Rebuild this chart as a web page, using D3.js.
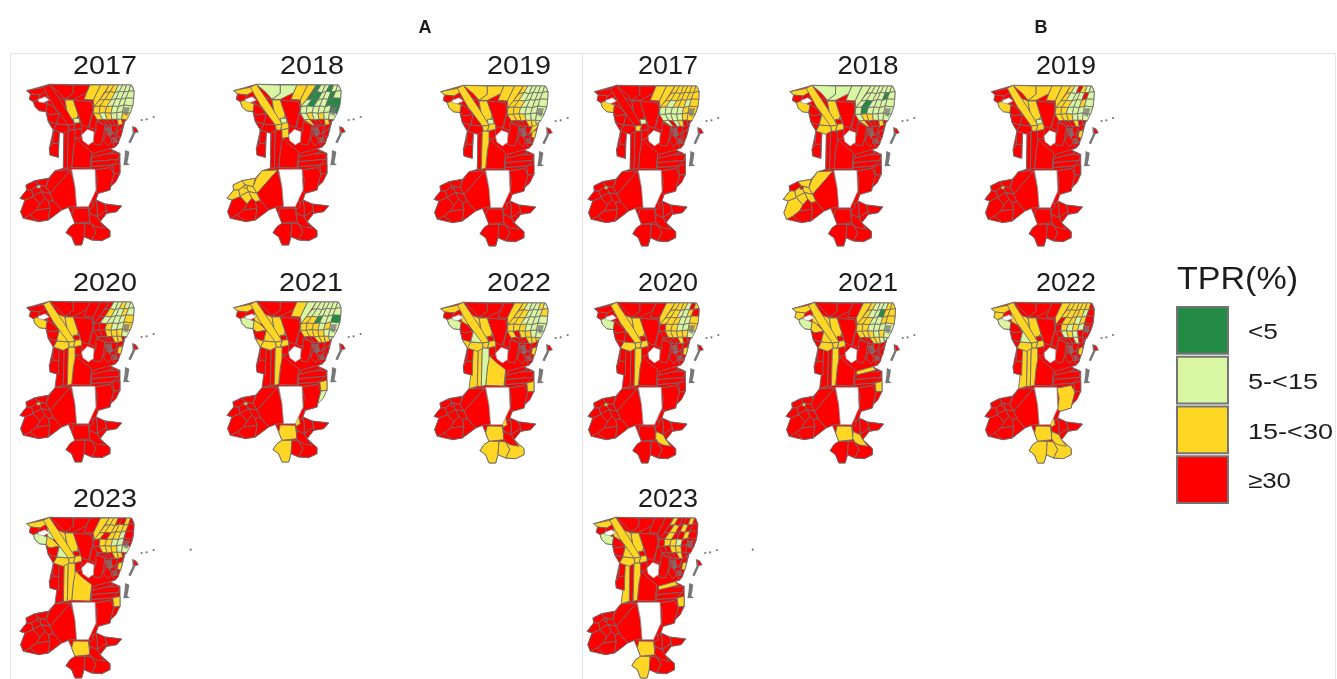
<!DOCTYPE html>
<html><head><meta charset="utf-8">
<style>html,body{margin:0;padding:0;background:#fff;overflow:hidden}svg{display:block}.map{filter:blur(.6px)}text{font-family:"Liberation Sans",Arial,sans-serif;fill:#1c1c1c;filter:blur(.3px)}</style>
<script src="https://cdn.jsdelivr.net/npm/d3@7/dist/d3.min.js"></script></head><body>
<svg id="c" width="1337" height="679"></svg>
<script>
// ---------- legend / classes ----------
const classLabels=["<5","5-<15","15-<30","≥30"];
const classColors=["#238b45","#d9f7a3","#ffd624","#ff0000"];
const years=[2017,2018,2019,2020,2021,2022,2023];

// ---------- map geometry (map units) ----------
const mainland=[[50,122],[118,103],[365,105],[372,122],[371,145],[368,168],[360,190],[345,212],[338,240],[325,280],[315,292],[300,296],[330,310],[330,370],[302,410],[300,420],[265,430],[258,450],[285,462],[335,468],[320,485],[290,490],[270,515],[300,542],[300,560],[275,572],[245,570],[222,560],[215,585],[195,585],[185,560],[168,548],[180,530],[195,520],[185,495],[175,472],[155,480],[115,510],[85,515],[40,505],[32,485],[45,450],[30,445],[50,420],[48,405],[75,392],[115,385],[135,362],[160,355],[162,245],[148,245],[145,322],[120,315],[118,295],[130,240],[115,215],[108,185],[88,182],[75,170],[70,155],[58,148],[62,132]];
const districts=[
["sw1",[[135,362],[182,360],[120,430],[108,410],[118,385]]],
["sw2",[[182,360],[195,410],[200,468],[175,472],[155,480],[130,452],[120,430]]],
["sw3",[[48,405],[75,392],[85,405],[65,420],[50,420]]],
["sw4",[[75,392],[115,385],[108,410],[85,405]]],
["sw5",[[30,445],[50,420],[65,420],[70,440],[45,450]]],
["sw6",[[65,420],[85,405],[95,425],[75,435],[70,440]]],
["sw7",[[85,405],[108,410],[120,430],[95,425]]],
["sw8",[[70,440],[75,435],[95,425],[105,445],[90,462]]],
["sw9",[[105,445],[95,425],[120,430],[130,452],[115,455]]],
["sw10",[[32,485],[45,450],[70,440],[90,462],[80,480],[60,495],[40,505]]],
["sw11",[[90,462],[105,445],[115,455],[120,475],[80,480]]],
["sw12",[[80,480],[120,475],[115,510],[85,515],[60,495]]],
["sw13",[[115,455],[130,452],[155,480],[115,510],[120,475]]],
["sw14",[[80,407],[90,405],[92,413],[82,415]]],
["so1",[[190,474],[235,475],[240,515],[195,520],[185,495]]],
["so2",[[195,520],[225,520],[222,560],[215,585],[195,585],[185,560],[168,548],[180,530]]],
["so3",[[225,520],[245,522],[258,545],[245,570],[222,560]]],
["so4",[[245,522],[270,515],[300,542],[300,560],[275,572],[245,570],[258,545]]],
["so5",[[240,490],[262,500],[270,515],[285,535],[258,530],[245,522],[238,510]]],
["e1",[[255,360],[300,352],[312,372],[302,410],[300,420],[265,430],[258,425],[262,390]]],
["e2",[[308,345],[330,340],[330,370],[312,372]]],
["e3",[[312,372],[330,370],[318,395],[302,410]]],
["e4",[[235,475],[258,450],[262,470],[262,500],[240,490]]],
["e5",[[258,450],[285,462],[290,480],[262,500],[262,470]]],
["e6",[[285,462],[335,468],[320,485],[290,490],[290,480]]],
["e7",[[262,500],[290,480],[290,490],[270,515]]],
["e4a",[[232,458],[245,450],[250,470],[238,478]]],
["m0",[[250,310],[300,296],[312,305],[290,312],[252,322]]],
["m1",[[245,322],[290,312],[330,310],[325,328],[245,335]]],
["m2",[[245,335],[325,328],[308,345],[245,350]]],
["m3",[[245,350],[308,345],[300,352],[255,360],[240,354]]],
["c1",[[195,262],[215,282],[245,305],[240,354],[185,352],[190,300]]],
["c3",[[190,240],[215,235],[215,262],[195,265]]],
["st1",[[162,240],[175,240],[172,355],[160,355]]],
["st2",[[175,240],[195,240],[195,275],[190,300],[185,352],[172,355]]],
["st0",[[146,245],[162,245],[160,355],[135,362],[140,322]]],
["p1",[[130,240],[148,245],[146,280],[128,280]]],
["p2",[[128,280],[146,280],[145,322],[120,315],[118,295]]],
["nw1",[[50,122],[100,112],[112,122],[90,135],[62,132]]],
["nw2",[[62,132],[90,135],[85,148],[70,155],[58,148]]],
["nw3",[[70,155],[85,150],[100,158],[112,162],[108,185],[88,182],[75,170]]],
["w1",[[112,125],[140,140],[150,168],[128,170],[112,160]]],
["w2",[[140,140],[165,150],[170,178],[150,168]]],
["w3",[[112,160],[128,170],[148,190],[118,195],[108,185]]],
["w4",[[150,168],[170,178],[172,200],[148,190]]],
["w5",[[108,185],[118,195],[148,190],[140,222],[115,215]]],
["w6",[[148,190],[172,200],[175,225],[140,222]]],
["w7",[[165,150],[190,150],[205,195],[195,215],[172,200],[170,178]]],
["w8",[[172,200],[195,215],[195,222],[175,225]]],
["w9",[[205,195],[215,225],[215,235],[190,240],[195,222]]],
["w10",[[140,222],[175,225],[178,240],[160,250],[130,240]]],
["w11",[[115,215],[140,222],[130,240]]],
["w12",[[175,225],[195,222],[190,240],[178,240]]],
["w13",[[190,205],[208,205],[210,218],[192,220]]],
["nc1",[[190,150],[245,155],[250,180],[235,232],[215,225],[205,195]]],
["nc2",[[250,170],[262,210],[258,240],[238,232],[250,180]]],
["t1",[[118,103],[190,105],[190,130],[165,148],[148,128]]],
["t2",[[190,105],[240,105],[230,128],[190,148],[165,148],[190,130]]],
["t3",[[240,105],[272,105],[250,150],[222,148],[230,128]]],
["t4",[[272,105],[298,105],[268,150],[252,170],[250,150]]],
["nw4",[[100,112],[118,103],[160,165],[195,222],[175,225],[130,165]]],
["r1",[[258,215],[285,225],[280,260],[272,285],[252,282],[250,262],[258,240]]],
["r2",[[285,225],[305,226],[300,255],[288,252]]],
["r3",[[305,226],[325,226],[315,250],[300,255]]],
["r4",[[325,226],[345,212],[340,228],[330,240],[315,250]]],
["r5",[[288,252],[300,255],[305,275],[295,288],[280,270]]],
["r6",[[300,255],[315,250],[325,280],[315,292],[305,275]]],
["r7",[[325,240],[338,238],[332,262],[322,258]]]
];
const lakes=[
[[215,255],[232,238],[252,245],[250,275],[235,285],[218,272]],
[[185,358],[255,358],[258,420],[235,470],[200,470],[195,410]],
[[85,148],[105,140],[118,150],[100,158],[85,155]]
];
const neLattice=[
[[298,105],[312,105],[325,105],[338,105],[350,105],[362,105],[366,108]],
[[285,128],[300,125],[315,128],[328,124],[342,126],[356,124],[372,122]],
[[268,150],[285,148],[303,150],[318,146],[333,148],[348,144],[371,145]],
[[252,170],[270,168],[290,170],[308,168],[325,170],[342,165],[368,168]],
[[250,190],[268,190],[285,188],[303,190],[320,188],[338,186],[360,190]],
[[262,210],[278,208],[292,210],[306,208],[322,208],[335,208],[350,210]],
[[285,225],[295,228],[305,226],[315,226],[325,226],[338,222],[345,212]]
];
const greyPatches=[
[[342,172],[360,172],[352,198],[340,192]],
[[286,232],[302,230],[310,250],[296,262]],
[[305,262],[318,262],[322,278],[310,280]]
];
const islands=[
[[366,228],[378,232],[387,246],[376,250],[362,280],[355,277],[368,250]],
[[345,300],[358,305],[355,325],[352,338],[360,345],[340,346],[344,320]]
];
const islandRed=[[370,232],[380,238],[382,246],[374,246]];
const specks=[[395,210],[410,208],[431,201]];
const farSpeck=[[542,200]];

// ---------- TPR class per panel: [<5 ids],[5-<15 ids],[15-<30 ids]; anything else is >=30 ----------
const swYellow=["sw1","sw3","sw4","sw5","sw6","sw7","sw8","sw9","sw14"];
const A2017=[[],["w13","sw14"],["t3","t4","w7"]];
const A2018=[[],["t1","t2","w8","w13"],["nw1","nw3","nw4","t3","t4","w7","w9","w12","c3",...swYellow]];
const A2019=[[],["w13"],["nw1","nw3","nw4","t1","t2","t3","t4","w7","w8","w9","w12","st2","r4","r7"]];
const A2020=[[],[],["nw3","nw4","w2","w4","w6","w7","w8","w9","w10","w12","st2","r7","sw14"]];
const A2021=[[],["nw3","t4","e3"],["nw1","nw4","w1","w2","w3","w4","w6","w7","w8","w9","w10","w11","w12","t3","so1","so2","e2","st2","e4a","sw14"]];
const A2022=[[],["nw3","w6","st2"],["nw1","nw4","w1","w2","w4","w7","w8","w9","w10","w11","w12","st0","st1","c1","e2","so1","so2","so3","so4","e4a","t4","r7"]];
const A2023=[[],["nw3","w1","w6"],["nw1","nw4","w2","w3","w4","w7","w8","w9","w10","w12","st1","st2","c1","e2","so1","t4","r7"]];
const B2017=[[],["w13"],["nw3","t3","t4","w12","sw14"]];
const B2018=[[],["t1","t2","t3","t4"],["nw1","nw3","nw4","w6","w7","w8","w9","w10","w12","sw1","sw4","sw5","sw6","sw7","sw8","sw9","sw10"]];
const B2019=[[],["w13"],["nw3","nw4","t1","t2","t3","t4","w2","w4","w7","w8","w9","w12","sw14","r7"]];
const B2020=[[],["nw3"],["nw4","w2","w4","w7","w8","w9","w10","w12","st2","so5","t4","sw14","r7"]];
const B2021=[[],["nw3"],["nw1","nw2","nw4","w1","w2","w3","w4","w6","w7","w8","w9","w10","w12","t4","so1","so5","e2","m0","st2","sw14"]];
const B2022=[[],["nw3","w6"],["nw1","nw2","nw4","w1","w2","w4","w7","w8","w9","w10","w12","st0","st1","st2","e1","e4a","so1","so2","so3","so4","so5","t4","r7"]];
const B2023=[[],["nw3"],["nw1","nw4","w1","w2","w4","w6","w7","w8","w9","w10","w12","st0","st2","e2","so1","so2","m0","r7"]];

// north-east district block: rows top to bottom, digits = class index
const neA2017=["221111","221111","221111","222111","212112","333323"];
const neA2018=["011011","001101","101100","111110","121211","233323"];
const neA2019=["211111","211111","221111","221111","222111","333221"];
const neA2020=["311211","321121","311112","332112","332221","333223"];
const neA2021=["111111","111111","220110","222121","222211","332221"];
const neA2022=["211121","221112","221111","222111","232211","333222"];
const neA2023=["223323","222223","232213","322113","322211","333223"];
const neB2017=["222222","222222","212212","111122","111122","131233"];
const neB2018=["111111","111101","101111","101111","122111","233323"];
const neB2019=["213211","211131","221121","221111","222111","333233"];
const neB2020=["222132","221123","222112","322112","322221","333233"];
const neB2021=["211122","211022","221122","221111","222121","332211"];
const neB2022=["222223","222213","322123","321213","312133","333133"];
const neB2023=["233323","323233","323323","322133","332233","333233"];

const classesA=[A2017,A2018,A2019,A2020,A2021,A2022,A2023];
const classesB=[B2017,B2018,B2019,B2020,B2021,B2022,B2023];
const gridA=[neA2017,neA2018,neA2019,neA2020,neA2021,neA2022,neA2023];
const gridB=[neB2017,neB2018,neB2019,neB2020,neB2021,neB2022,neB2023];

// ---------- layout ----------
const UNIT=402; // map units across the reference frame
const layoutA=[[10,50,1,105,74,64],[217,50,1,312,74,64],[424,51,1,519,74,64],[10,267,1,105,291,64],[217,267,1,311,291,64],[424,268,1,519,291,64],[10,483,1,105,507,64]];
const layoutB=[[578.2,51,.975,668,74,60],[773.5,51,.98,868,74,61],[975.4,51,.958,1066,74,60],[578.2,268,.975,668,291,60],[776.4,268,.96,868,291,60],[975.4,268,.958,1066,291,60],[577.5,483,.97,668,507,60]];

const svg=d3.select("#c");
svg.append("path").attr("d","M10.5 679V53.5H1335.5V679M582.5 53.5V679").attr("fill","none").attr("stroke","#e4e4e4");

function drawPanel(cls,grid,lay,yearIdx){
  const [ox,oy,sx,lx,ly,lw]=lay;
  const x=d3.scaleLinear().domain([0,UNIT]).range([ox,ox+UNIT/3*sx]);
  const y=d3.scaleLinear().domain([0,UNIT]).range([oy,oy+UNIT/3]);
  const line=d3.line().x(d=>x(d[0])).y(d=>y(d[1])).curve(d3.curveLinearClosed);
  const g=svg.append("g").attr("class","map").attr("stroke","#6d6d6d").attr("stroke-width",.9).attr("stroke-linejoin","round");
  const classOf=id=>{for(let k=0;k<3;k++) if(cls[k].includes(id)) return k; return 3;};
  g.append("path").attr("d",line(mainland)).attr("fill",classColors[3]);
  const shown=districts.filter(d=>d[0]!=="st0"||years[yearIdx]>=2020);
  g.selectAll("path.d").data(shown).join("path").attr("class","d").attr("d",d=>line(d[1])).attr("fill",d=>classColors[classOf(d[0])]);
  const cells=[];
  grid.forEach((row,r)=>row.split("").forEach((c,k)=>cells.push({c:+c,p:[neLattice[r][k],neLattice[r][k+1],neLattice[r+1][k+1],neLattice[r+1][k]]})));
  g.selectAll("path.ne").data(cells).join("path").attr("class","ne").attr("d",d=>line(d.p)).attr("fill",d=>classColors[d.c]).attr("stroke-width",.8);
  g.selectAll("path.gp").data(greyPatches).join("path").attr("class","gp").attr("d",line).attr("fill","#777").attr("stroke","none").attr("opacity",.75);
  g.selectAll("path.lake").data(lakes).join("path").attr("class","lake").attr("d",line).attr("fill","#fff").attr("stroke","#9a9a9a").attr("stroke-width",.7);
  g.selectAll("path.isl").data(islands).join("path").attr("class","isl").attr("d",line).attr("fill","#777").attr("stroke","none");
  g.append("path").attr("d",line(islandRed)).attr("fill",classColors[3]).attr("stroke","none");
  const pts=years[yearIdx]===2023?specks.concat(farSpeck):specks;
  g.selectAll("circle").data(pts).join("circle").attr("cx",d=>x(d[0])).attr("cy",d=>y(d[1])).attr("r",1.1).attr("fill","#777").attr("stroke","none");
  svg.append("text").attr("x",lx).attr("y",ly).attr("text-anchor","middle").attr("font-size",25).attr("textLength",lw).attr("lengthAdjust","spacingAndGlyphs").text(years[yearIdx]);
}
years.forEach((yr,i)=>drawPanel(classesA[i],gridA[i],layoutA[i],i));
years.forEach((yr,i)=>drawPanel(classesB[i],gridB[i],layoutB[i],i));

svg.append("text").attr("x",425).attr("y",33).attr("text-anchor","middle").attr("font-size",18).attr("font-weight","bold").text("A");
svg.append("text").attr("x",1041).attr("y",33).attr("text-anchor","middle").attr("font-size",18).attr("font-weight","bold").text("B");

// legend
const legY=d3.scaleBand().domain(classLabels).range([306,505]);
const legW=[30,70,85,43];
svg.append("text").attr("x",1177).attr("y",289).attr("font-size",32).attr("textLength",121).attr("lengthAdjust","spacingAndGlyphs").text("TPR(%)");
const lg=svg.append("g").selectAll("g").data(classLabels).join("g");
lg.append("rect").attr("x",1177).attr("y",d=>legY(d)+1).attr("width",51).attr("height",legY.bandwidth()-3).attr("fill",(d,i)=>classColors[i]).attr("stroke","#757575").attr("stroke-width",2);
lg.append("text").attr("x",1248).attr("y",d=>legY(d)+33).attr("font-size",22).attr("textLength",(d,i)=>legW[i]).attr("lengthAdjust","spacingAndGlyphs").text(d=>d);
</script></body></html>
